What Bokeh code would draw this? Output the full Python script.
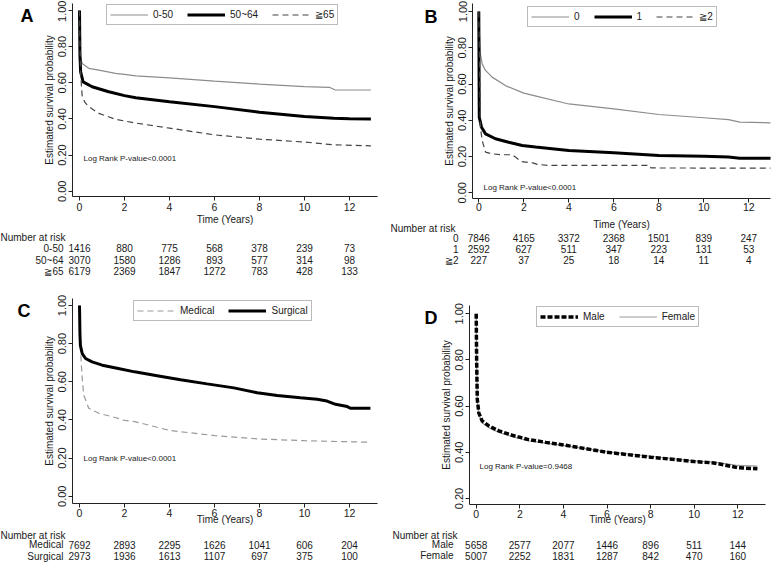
from bokeh.plotting import figure
from bokeh.models import Range1d, FixedTicker, NumeralTickFormatter, Legend, LegendItem
from bokeh.layouts import row, column
from bokeh.core.properties import value
from bokeh.embed import file_html
from bokeh.resources import INLINE

FONT = "Liberation Sans"

# ---------------- data ----------------
risk_times = [0, 2, 4, 6, 8, 10, 12]
x_ticks = [0, 2, 4, 6, 8, 10, 12]

# Panel A: age groups
a_0_50_t = [0, 0.03, 0.06, 0.12, 0.41, 0.86, 1.6, 2.0, 2.5, 4.0, 6.0, 8.0, 10.0, 11.1, 11.35, 12.95]
a_0_50_s = [1.0, 0.80, 0.735, 0.706, 0.680, 0.670, 0.652, 0.646, 0.638, 0.627, 0.609, 0.593, 0.579, 0.575, 0.561, 0.560]
a_50_64_t = [0, 0.02, 0.05, 0.16, 0.56, 1.3, 2.0, 2.5, 4.0, 6.0, 8.0, 10.0, 11.3, 12.0, 12.95]
a_50_64_s = [1.0, 0.75, 0.66, 0.605, 0.578, 0.55, 0.529, 0.517, 0.495, 0.468, 0.437, 0.414, 0.404, 0.401, 0.400]
a_65_t = [0, 0.02, 0.05, 0.12, 0.25, 0.41, 0.86, 1.6, 2.5, 4.0, 6.0, 8.0, 10.0, 11.3, 12.95]
a_65_s = [1.0, 0.82, 0.65, 0.523, 0.49, 0.468, 0.431, 0.398, 0.377, 0.349, 0.312, 0.288, 0.272, 0.257, 0.251]
a_labels = ["0-50", "50~64", "≧65"]
a_risk_0_50 = [1416, 880, 775, 568, 378, 239, 73]
a_risk_50_64 = [3070, 1580, 1286, 893, 577, 314, 98]
a_risk_65 = [6179, 2369, 1847, 1272, 783, 428, 133]

# Panel B: comorbidity groups
b_0_t = [0, 0.03, 0.07, 0.15, 0.3, 0.59, 1.2, 2.0, 2.5, 4.0, 6.0, 8.0, 10.0, 11.1, 11.6, 13.0]
b_0_s = [1.0, 0.877, 0.767, 0.711, 0.675, 0.638, 0.59, 0.55, 0.535, 0.49, 0.463, 0.432, 0.414, 0.404, 0.39, 0.386]
b_1_t = [0, 0.02, 0.12, 0.3, 0.74, 1.33, 1.93, 2.52, 4.0, 6.0, 8.0, 10.0, 11.1, 11.6, 13.0]
b_1_s = [1.0, 0.417, 0.362, 0.325, 0.298, 0.279, 0.261, 0.252, 0.233, 0.221, 0.206, 0.202, 0.197, 0.191, 0.191]
b_2_t = [0, 0.07, 0.15, 0.3, 0.59, 1.04, 1.48, 1.7, 1.9, 2.4, 2.6, 3.1, 7.6, 7.65, 13.0]
b_2_s = [1.0, 0.362, 0.289, 0.224, 0.215, 0.21, 0.21, 0.19, 0.172, 0.165, 0.157, 0.151, 0.151, 0.137, 0.136]
b_labels = ["0", "1", "≧2"]
b_risk_0 = [7846, 4165, 3372, 2368, 1501, 839, 247]
b_risk_1 = [2592, 627, 511, 347, 223, 131, 53]
b_risk_2 = [227, 37, 25, 18, 14, 11, 4]

# Panel C: treatment
c_med_t = [0, 0.02, 0.04, 0.12, 0.19, 0.41, 0.86, 1.45, 2.0, 2.5, 4.0, 6.0, 8.0, 10.0, 12.93]
c_med_s = [1.0, 0.86, 0.774, 0.617, 0.53, 0.461, 0.435, 0.417, 0.398, 0.39, 0.345, 0.318, 0.30, 0.291, 0.283]
c_sur_t = [0, 0.02, 0.04, 0.12, 0.27, 0.56, 1.01, 1.67, 2.45, 3.45, 4.49, 5.67, 6.86, 7.9, 8.79, 9.82, 10.56, 11.0, 11.38, 11.9, 12.04, 12.93]
c_sur_s = [1.0, 0.85, 0.791, 0.748, 0.722, 0.704, 0.687, 0.671, 0.652, 0.632, 0.611, 0.589, 0.568, 0.542, 0.528, 0.516, 0.508, 0.499, 0.482, 0.47, 0.461, 0.461]
c_labels = ["Medical", "Surgical"]
c_risk_med = [7692, 2893, 2295, 1626, 1041, 606, 204]
c_risk_sur = [2973, 1936, 1613, 1107, 697, 375, 100]

# Panel D: sex
d_t = [0, 0.02, 0.05, 0.12, 0.27, 0.58, 1.04, 1.65, 2.4, 3.2, 4.0, 6.0, 8.0, 10.0, 10.9, 11.5, 12.0, 12.9]
d_male_s = [1.0, 0.80, 0.629, 0.571, 0.536, 0.514, 0.493, 0.474, 0.455, 0.443, 0.432, 0.40, 0.379, 0.36, 0.354, 0.343, 0.333, 0.329]
d_female_s = [1.0, 0.80, 0.62, 0.565, 0.528, 0.507, 0.486, 0.468, 0.45, 0.44, 0.43, 0.402, 0.383, 0.363, 0.357, 0.35, 0.343, 0.34]
d_labels = ["Male", "Female"]
d_risk_male = [5658, 2577, 2077, 1446, 896, 511, 144]
d_risk_female = [5007, 2252, 1831, 1287, 842, 470, 160]

y_ticks_full = [0.0, 0.2, 0.4, 0.6, 0.8, 1.0]
y_ticks_d = [0.2, 0.4, 0.6, 0.8, 1.0]

# ---------------- styles ----------------
THIN_GRAY = dict(line_color="#8c8c8c", line_width=1.2)
THICK = dict(line_color="black", line_width=3)
DASH_DARK = dict(line_color="#444444", line_width=1.2, line_dash="6 4")
DASH_GRAY = dict(line_color="#9a9a9a", line_width=1.2, line_dash="6 4")
THICK_DASH = dict(line_color="black", line_width=3.5, line_dash="5 2")
FEMALE = dict(line_color="#999999", line_width=1.2)
TXT = "#1a1a1a"


def blank_fig(w, h, xr, yr):
    f = figure(width=w, height=h, x_range=xr, y_range=yr, output_backend="svg",
               toolbar_location=None, x_axis_location=None, y_axis_location=None,
               min_border_left=0, min_border_right=0, min_border_top=0, min_border_bottom=0)
    f.outline_line_color = None
    f.grid.visible = False
    f.background_fill_color = "white"
    f.border_fill_color = "white"
    return f


def txt(f, x, y, s, size="10px", align="left", bold=False, color=TXT):
    f.text(x=x, y=y, text=s, text_font=value(FONT), text_font_size=value(size),
           text_align=align, text_baseline="alphabetic", text_color=color,
           text_font_style="bold" if bold else "normal")


def make_panel(g, letter, series, legend_order, yticks, risk_labels, risk_rows, logrank_text):
    W, H, LW, SP = g["W"], g["H"], g["LW"], g["split"]
    L, R, T, B = g["L"], g["R"], g["T"], g["B"]
    xs, ys = g["xs"], g["ys"]
    x_start = -(g["x0"] - L) / xs
    x_end = x_start + (R - L) / xs
    y_end = 1.0 + (g["y1"] - T) / ys
    y_start = y_end - (B - T) / ys

    def to_data(px, py):
        return x_start + (px - L) / xs, y_end - (py - T) / ys

    # ---- survival plot ----
    p = figure(width=W - LW, height=SP, x_range=Range1d(x_start, x_end), y_range=Range1d(y_start, y_end),
               min_border_left=L - LW, min_border_right=W - R, min_border_top=T, min_border_bottom=SP - B,
               output_backend="svg", toolbar_location=None)
    p.outline_line_color = None
    p.grid.visible = False
    p.background_fill_color = "white"
    p.border_fill_color = "white"
    for ax in (p.xaxis[0], p.yaxis[0]):
        ax.axis_line_color = "#222222"
        ax.major_tick_line_color = "#222222"
        ax.minor_tick_line_color = None
        ax.major_tick_in = 0
        ax.major_tick_out = 4
        ax.major_label_text_font = FONT
        ax.major_label_text_color = TXT
        ax.axis_label_text_font = FONT
        ax.axis_label_text_font_style = "normal"
        ax.axis_label_text_font_size = "10px"
        ax.axis_label_text_color = TXT
    p.xaxis.ticker = FixedTicker(ticks=x_ticks)
    p.xaxis.major_label_text_font_size = "10.5px"
    p.xaxis.major_label_standoff = g["xs1"]
    if g["xlabel_on_axis"]:
        p.xaxis.axis_label = "Time (Years)"
        p.xaxis.axis_label_standoff = g["xs2"]
    p.yaxis.ticker = FixedTicker(ticks=yticks)
    p.yaxis.formatter = NumeralTickFormatter(format="0.00")
    p.yaxis.major_label_orientation = "vertical"
    p.yaxis.major_label_text_font_size = "11px"
    p.yaxis.major_label_standoff = 2
    p.yaxis.axis_label = "Estimated survival probability"
    p.yaxis.axis_label_standoff = 1

    rends = {}
    for lab, t, s, style in series:
        rends[lab] = p.line(t, s, **style)
    leg = Legend(items=[LegendItem(label=lab, renderers=[rends[lab]]) for lab in legend_order],
                 orientation="horizontal", location=g["legend"],
                 glyph_width=38, glyph_height=13, label_height=13, label_width=0,
                 label_standoff=5, spacing=14, padding=3, margin=0,
                 label_text_font=FONT, label_text_font_size="10px", label_text_color=TXT,
                 border_line_color="#777777", border_line_width=1, background_fill_alpha=1.0)
    p.add_layout(leg)
    lx, ly = to_data(*g["logrank"])
    txt(p, [lx], [ly], [logrank_text], size="8px")

    # ---- panel letter (its frame is aligned with the plot frame: rows T..B) ----
    fl = blank_fig(LW, SP, Range1d(0, LW), Range1d(B, T))
    txt(fl, [g["letter"][0]], [g["letter"][1]], [letter], size="18px", bold=True, color="black")

    # ---- number-at-risk table ----
    TH = H - SP
    t_start = -g["x0"] / xs
    t_end = t_start + W / xs
    ft = blank_fig(W, TH, Range1d(t_start, t_end), Range1d(TH, 0))
    off = 3.6  # baseline below the visual centre of 10px text

    def tx(px):
        return t_start + px / xs

    if not g["xlabel_on_axis"]:
        txt(ft, [tx((L + R) / 2)], [g["xlabel_y"] - SP + off], ["Time (Years)"], align="center")
    txt(ft, [tx(g["nar_x"])], [g["nar_y"] - SP + off], ["Number at risk"])
    for lab, rowvals, py in zip(risk_labels, risk_rows, g["rows_y"]):
        yy = py - SP + off
        txt(ft, [tx(g["rowlab_x"])], [yy], [lab], align="right")
        txt(ft, risk_times, [yy] * len(risk_times), [str(n) for n in rowvals], align="center")

    return column(row(fl, p), ft)


gA = dict(W=390, H=282, LW=40, split=227, L=72, R=377, T=3, B=197, x0=79, xs=22.5, y1=10, ys=181.7,
          xs1=2, xs2=0, xlabel_on_axis=True, xlabel_y=220,
          legend=(34, 171), logrank=(83, 159), letter=(20, 16),
          nar_x=0, nar_y=233.3, rowlab_x=63, rows_y=[244.3, 256.3, 267.3])
gB = dict(W=388, H=282, LW=47, split=214, L=82, R=380, T=3, B=198, x0=88.3, xs=22.5, y1=11, ys=181.3,
          xs1=0, xs2=0, xlabel_on_axis=False, xlabel_y=220,
          legend=(55, 171), logrank=(93, 187), letter=(34, 16),
          nar_x=0, nar_y=224.3, rowlab_x=68, rows_y=[234.3, 245.3, 256])
gC = dict(W=390, H=287, LW=40, split=245, L=72, R=377, T=16, B=222, x0=79, xs=22.5, y1=23, ys=191.7,
          xs1=1, xs2=-6, xlabel_on_axis=True, xlabel_y=238.7,
          legend=(61, 182), logrank=(83, 177), letter=(17, 29),
          nar_x=0, nar_y=249.3, rowlab_x=63, rows_y=[258.8, 270])
gD = dict(W=388, H=287, LW=47, split=245, L=79, R=375, T=23, B=224, x0=85.7, xs=21.8, y1=31.3, ys=233.3,
          xs1=1, xs2=-7, xlabel_on_axis=True, xlabel_y=241,
          legend=(67, 177), logrank=(89, 186), letter=(34, 35.5),
          nar_x=2, nar_y=249, rowlab_x=63, rows_y=[258.7, 269.7])

panelA = make_panel(gA, "A",
                    [(a_labels[0], a_0_50_t, a_0_50_s, THIN_GRAY),
                     (a_labels[1], a_50_64_t, a_50_64_s, THICK),
                     (a_labels[2], a_65_t, a_65_s, DASH_DARK)],
                    a_labels, y_ticks_full, a_labels, [a_risk_0_50, a_risk_50_64, a_risk_65],
                    "Log Rank P-value<0.0001")
panelB = make_panel(gB, "B",
                    [(b_labels[0], b_0_t, b_0_s, THIN_GRAY),
                     (b_labels[1], b_1_t, b_1_s, THICK),
                     (b_labels[2], b_2_t, b_2_s, DASH_DARK)],
                    b_labels, y_ticks_full, b_labels, [b_risk_0, b_risk_1, b_risk_2],
                    "Log Rank P-value<0.0001")
panelC = make_panel(gC, "C",
                    [(c_labels[0], c_med_t, c_med_s, DASH_GRAY),
                     (c_labels[1], c_sur_t, c_sur_s, THICK)],
                    c_labels, y_ticks_full, c_labels, [c_risk_med, c_risk_sur],
                    "Log Rank P-value<0.0001")
panelD = make_panel(gD, "D",
                    [(d_labels[1], d_t, d_female_s, FEMALE),
                     (d_labels[0], d_t, d_male_s, THICK_DASH)],
                    d_labels, y_ticks_d, d_labels, [d_risk_male, d_risk_female],
                    "Log Rank P-value=0.9468")

layout = column(row(panelA, panelB), row(panelC, panelD))
open("out.html", "w").write(file_html(layout, INLINE))
